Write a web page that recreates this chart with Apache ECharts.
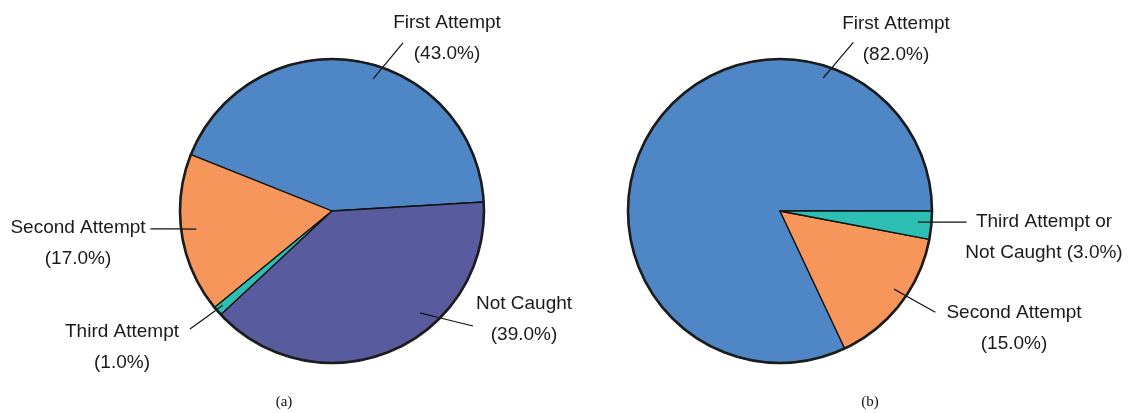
<!DOCTYPE html>
<html><head><meta charset="utf-8">
<script src="https://cdn.jsdelivr.net/npm/echarts@6/dist/echarts.min.js"></script>
<style>html,body{margin:0;padding:0;background:#fff}#c{width:1128px;height:413px}</style>
</head><body><div id="c"></div>
<script>
// ---- data ----
const categoriesA = ['First Attempt', 'Second Attempt', 'Third Attempt', 'Not Caught'];
const valuesA = [43, 17, 1, 39];
const categoriesB = ['First Attempt', 'Second Attempt', 'Third Attempt or\nNot Caught'];
const valuesB = [82, 15, 3];
const captions = ['(a)', '(b)'];

// ---- styles / layout ----
const colorsA = ['#4f86c6', '#f7965a', '#2dbfb4', '#585b9e'];
const colorsB = ['#4f86c6', '#f7965a', '#2dbfb4'];
const R = 152;
const centers = [[332, 211], [780, 211]];
const startAngles = [3.4, 0];
const FONT = '"Liberation Sans", Arial, sans-serif';
// text centre offset from pie centre; leader line ends in polar form [deg, fraction of R]
const layoutA = [
  {dx: 115, dy: -173, p1: [72.7, 0.91], p2: [67.1, 1.20]},
  {dx: -254, dy: 32, p1: [187.6, 0.90], p2: [185.6, 1.20]},
  {dx: -210, dy: 136, p1: [220.8, 0.95], p2: [219.7, 1.215]},
  {dx: 192, dy: 108, p1: [-49.2, 0.886], p2: [-39.2, 1.197]}
];
const layoutB = [
  {dx: 116, dy: -172, p1: [72.0, 0.92], p2: [66.5, 1.21]},
  {dx: 234, dy: 117, p1: [-34.4, 0.91], p2: [-33.1, 1.22]},
  {dx: 264, dy: 26, p1: [-4.6, 0.91], p2: [-3.4, 1.23]}
];
const layouts = [layoutA, layoutB];

function polar(ci, a, f) {
  const c = centers[ci], rad = a * Math.PI / 180;
  return [c[0] + f * R * Math.cos(rad), c[1] - f * R * Math.sin(rad)];
}
function fmt(p) {
  const pct = '(' + p.value.toFixed(1) + '%)';
  return p.name.indexOf('\n') >= 0 ? p.name + ' ' + pct : p.name + '\n' + pct;
}
function basePie(ci, cats, vals, cols) {
  return {
    type: 'pie', center: centers[ci], radius: R, startAngle: startAngles[ci],
    clockwise: false, avoidLabelOverlap: false, animation: false, z: 2,
    emphasis: {disabled: true},
    data: cats.map((n, i) => ({name: n, value: vals[i], itemStyle: {color: cols[i]}})),
    itemStyle: {borderColor: '#111', borderWidth: 1.3},
    label: {show: false}, labelLine: {show: false}
  };
}
function labelPie(ci, cats, vals) {
  return {
    type: 'pie', center: centers[ci], radius: R, startAngle: startAngles[ci],
    clockwise: false, avoidLabelOverlap: false, animation: false, z: 4, silent: true,
    emphasis: {disabled: true},
    data: cats.map((n, i) => ({name: n, value: vals[i]})),
    itemStyle: {color: 'rgba(0,0,0,0)', borderWidth: 0},
    label: {
      show: true, position: 'outside', formatter: fmt,
      fontFamily: FONT, fontSize: 19, lineHeight: 31, color: '#1a1a1a', align: 'center'
    },
    labelLine: {show: true, length: 20, length2: 10, lineStyle: {color: '#111', width: 1.2}},
    labelLayout: function (p) {
      const L = layouts[ci][p.dataIndex];
      const c = centers[ci];
      const a = polar(ci, L.p1[0], L.p1[1]);
      const b = polar(ci, L.p2[0], L.p2[1]);
      return {
        x: c[0] + L.dx, y: c[1] + L.dy, align: 'center', verticalAlign: 'middle',
        labelLinePoints: [a, [(a[0] + b[0]) / 2, (a[1] + b[1]) / 2], b]
      };
    }
  };
}
function ring(ci) {
  return {
    type: 'pie', center: centers[ci], radius: R, silent: true, animation: false, z: 5,
    emphasis: {disabled: true},
    data: [{value: 1}],
    itemStyle: {color: 'rgba(0,0,0,0)', borderColor: '#1c1c1c', borderWidth: 2.6},
    label: {show: false}, labelLine: {show: false}
  };
}

const chart = echarts.init(document.getElementById('c'), null, {renderer: 'canvas'});
chart.setOption({
  backgroundColor: '#fff',
  animation: false,
  series: [
    basePie(0, categoriesA, valuesA, colorsA),
    basePie(1, categoriesB, valuesB, colorsB),
    labelPie(0, categoriesA, valuesA),
    labelPie(1, categoriesB, valuesB),
    ring(0), ring(1)
  ],
  graphic: [
    {type: 'text', x: 284, y: 402, style: {text: captions[0], font: '15px "Liberation Serif", "Times New Roman", serif', fill: '#111', textAlign: 'center', textVerticalAlign: 'middle'}},
    {type: 'text', x: 870, y: 402, style: {text: captions[1], font: '15px "Liberation Serif", "Times New Roman", serif', fill: '#111', textAlign: 'center', textVerticalAlign: 'middle'}}
  ]
});
</script>
</body></html>
